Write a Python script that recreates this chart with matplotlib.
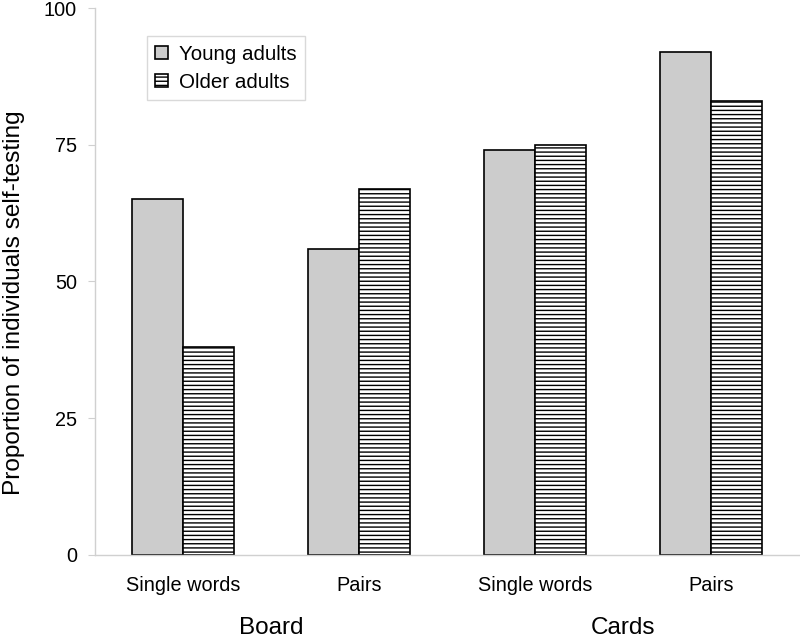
import matplotlib
matplotlib.use("Agg")
import matplotlib.pyplot as plt
import numpy as np

plt.rcParams['font.family'] = ['Liberation Sans', 'DejaVu Sans']
plt.rcParams['hatch.linewidth'] = 1.0

categories = ["Single words", "Pairs", "Single words", "Pairs"]
groups = ["Board", "Cards"]
young = [65, 56, 74, 92]
older = [38, 67, 75, 83]
series_names = ["Young adults", "Older adults"]

fig = plt.figure(figsize=(8, 6.41), dpi=100)
ax = fig.add_axes([0.11875, 0.1342, 0.88, 0.8533])

x = np.arange(len(categories)) + 0.5
w = 0.29
ax.bar(x - w/2, young, w, color="#cccccc", edgecolor="black", linewidth=1.2,
       label=series_names[0])
ax.bar(x + w/2, older, w, color="white", edgecolor="black", linewidth=1.2,
       hatch="----", label=series_names[1])

ax.set_xlim(0, 4)
ax.set_ylim(0, 100)
ax.set_yticks([0, 25, 50, 75, 100])
ax.set_xticks(x)
ax.set_xticklabels(categories, fontsize=14.3)
ax.tick_params(axis='x', length=0, pad=15)
ax.tick_params(axis='y', labelsize=14.3, length=5, color="#d0d0d0", pad=8)
for s in ["top", "right"]:
    ax.spines[s].set_visible(False)
for s in ["left", "bottom"]:
    ax.spines[s].set_color("#d0d0d0")
    ax.spines[s].set_linewidth(1.0)

ax.set_ylabel("Proportion of individuals self-testing", fontsize=17.6)
ax.yaxis.set_label_coords(-0.1, 0.461)

for i, g in enumerate(groups):
    ax.text(1.0 + 2 * i, -0.133, g, transform=ax.get_xaxis_transform(),
            ha="center", va="center", fontsize=17.5)

leg = ax.legend(loc="upper left", bbox_to_anchor=(0.074, 0.948), fontsize=14.8,
                frameon=True, fancybox=False, handlelength=0.6, handleheight=0.6,
                handletextpad=0.55, borderpad=0.4, labelspacing=0.45,
                borderaxespad=0)
leg.get_frame().set_edgecolor("#d0d0d0")
leg.get_frame().set_linewidth(1.0)

fig.savefig("out.png", dpi=100)
